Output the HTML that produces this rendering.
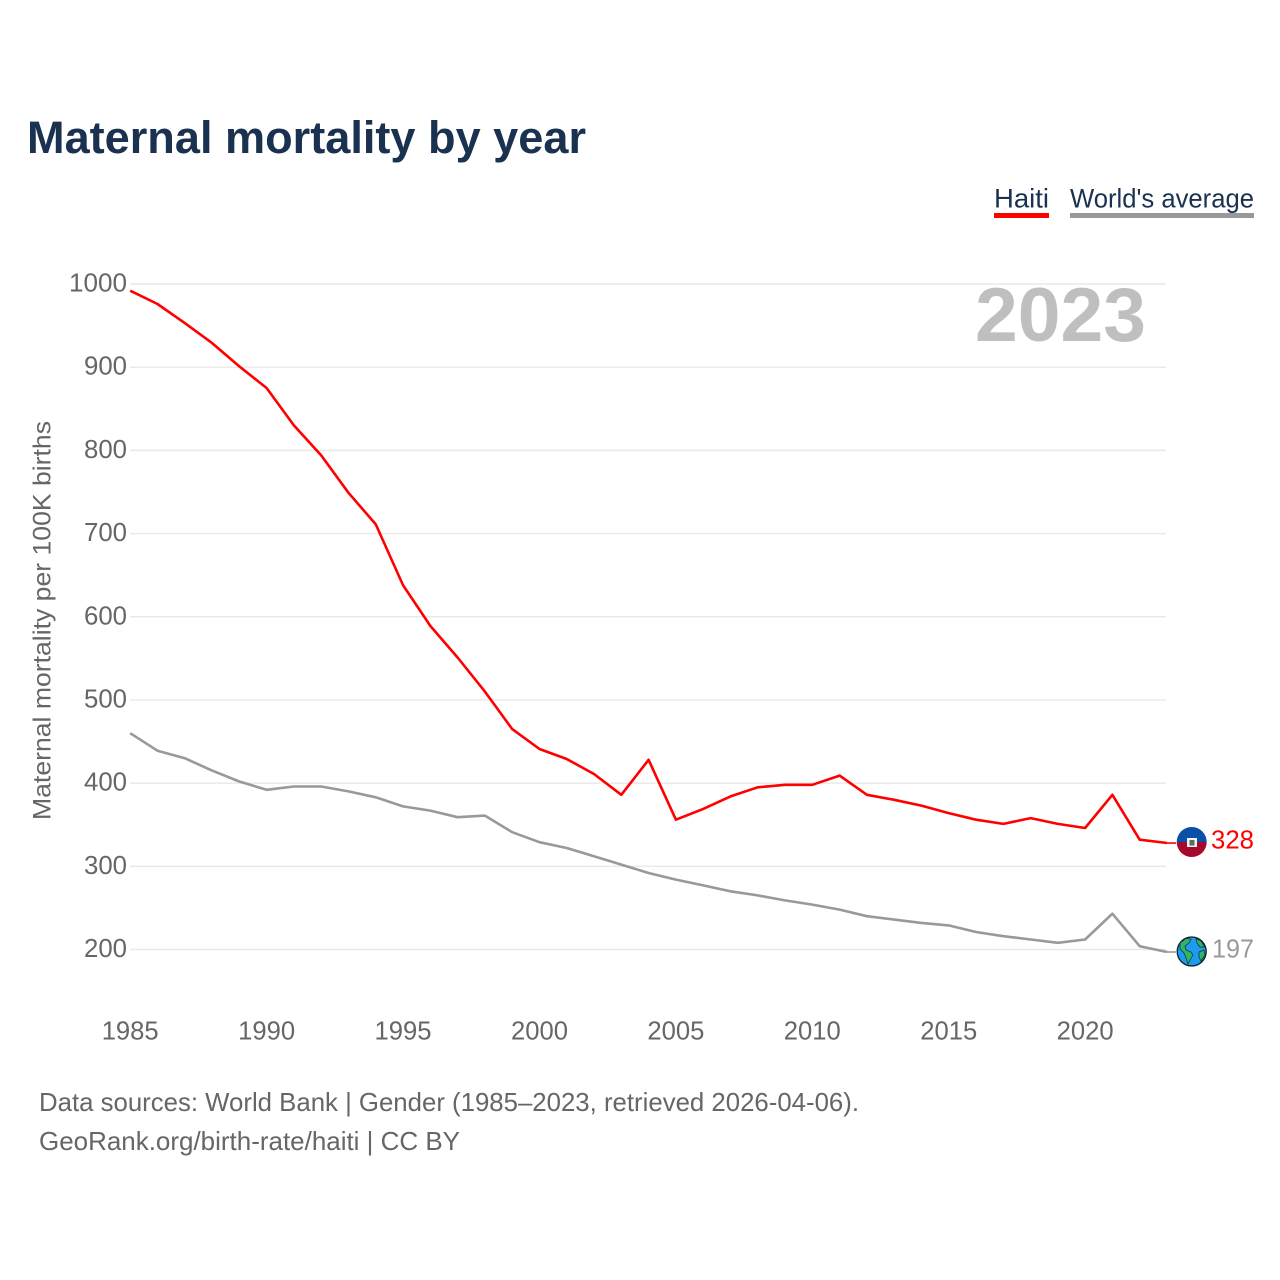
<!DOCTYPE html>
<html lang="en">
<head>
<meta charset="utf-8">
<title>Maternal mortality by year</title>
<style>
html,body{margin:0;padding:0;background:#fff}
svg{display:block}
text{font-family:"Liberation Sans",sans-serif}
</style>
</head>
<body>
<svg id="chart" xmlns="http://www.w3.org/2000/svg" width="1280" height="1280" viewBox="0 0 1280 1280">
<rect width="1280" height="1280" fill="#fff"/>
<text x="27" y="153" font-size="45" font-weight="700" fill="#1a3150" textLength="559" lengthAdjust="spacingAndGlyphs">Maternal mortality by year</text>
<g>
<g>
<text x="994" y="207.5" font-size="27" fill="#1a3150" textLength="55" lengthAdjust="spacingAndGlyphs">Haiti</text>
<rect x="994" y="213" width="55" height="5" fill="#ff0000"/>
</g>
<g>
<text x="1070" y="207.5" font-size="27" fill="#1a3150" textLength="184" lengthAdjust="spacingAndGlyphs">World's average</text>
<rect x="1070" y="213" width="184" height="5" fill="#999999"/>
</g>
</g>
<g id="grid"></g>
<g id="yticks"></g>
<g id="xticks"></g>
<text transform="translate(50.5,820) rotate(-90)" font-size="25" fill="#666666" textLength="399" lengthAdjust="spacingAndGlyphs">Maternal mortality per 100K births</text>
<text id="year" x="975" y="341" font-size="76" font-weight="700" fill="#bfbfbf" textLength="171" lengthAdjust="spacingAndGlyphs">2023</text>
<g id="series"></g>
<g id="ends">
<g>
<clipPath id="flagClip"><circle cx="1191.7" cy="842" r="15"/></clipPath>
<g clip-path="url(#flagClip)">
<rect x="1176" y="826" width="32" height="16" fill="#0a50a8"/>
<rect x="1176" y="842" width="32" height="16" fill="#a50a2c"/>
<rect x="1187" y="838" width="10" height="9" fill="#f4f4f0"/>
<rect x="1189.5" y="840" width="5" height="5.5" fill="#5d6a60"/>
</g>
</g>
<g>
<circle cx="1191.7" cy="951.5" r="14.5" fill="#1e9bf0" stroke="#10202a" stroke-width="1.3"/>
<path d="M1180 943 L1186 938.5 L1191 939 L1189 943 L1185 946 L1186 950 L1191 952 L1193 955 L1190 960 L1188 964 L1186 958 L1184 953 L1180 949 Z" fill="#2fb56a" stroke="#10301f" stroke-width="0.7"/>
<path d="M1196 938.5 L1201 941 L1204.5 947 L1200 947 L1197 943 Z M1199 952 L1204 950 L1205 955 L1201 961 L1199 957 Z" fill="#2fb56a" stroke="#10301f" stroke-width="0.7"/>
</g>
</g>
<text id="haitiValue" x="1211" y="848.5" font-size="26" fill="#ff0000" textLength="43" lengthAdjust="spacingAndGlyphs"></text>
<text id="worldValue" x="1212" y="957.5" font-size="26" fill="#999999" textLength="42" lengthAdjust="spacingAndGlyphs"></text>
<g>
<text x="39" y="1111" font-size="26" fill="#666666" textLength="820" lengthAdjust="spacingAndGlyphs">Data sources: World Bank | Gender (1985–2023, retrieved 2026-04-06).</text>
<text x="39" y="1150" font-size="26" fill="#666666" textLength="421" lengthAdjust="spacingAndGlyphs">GeoRank.org/birth-rate/haiti | CC BY</text>
</g>
</svg>
<script>
const years = [1985,1986,1987,1988,1989,1990,1991,1992,1993,1994,1995,1996,1997,1998,1999,2000,2001,2002,2003,2004,2005,2006,2007,2008,2009,2010,2011,2012,2013,2014,2015,2016,2017,2018,2019,2020,2021,2022,2023];
const haiti = [992,976,953,929,901,875,830,794,749,711,638,589,551,510,465,441,429,411,386,428,356,369,384,395,398,398,409,386,380,373,364,356,351,358,351,346,386,332,328];
const world = [460,439,430,415,402,392,396,396,390,383,372,367,359,361,341,329,322,312,302,292,284,277,270,265,259,254,248,240,236,232,229,221,216,212,208,212,243,204,197];
const yTickLabels = [200,300,400,500,600,700,800,900,1000];
const xTickLabels = [1985,1990,1995,2000,2005,2010,2015,2020];

const NS = 'http://www.w3.org/2000/svg';
const xScale = v => 130.2 + (v - 1985) * (1167 - 130.2) / 38;
const yScale = v => 949.5 - (v - 200) * (949.5 - 284) / 800;
function make(tag, parent, attrs, text) {
  const el = document.createElementNS(NS, tag);
  for (const k in attrs) el.setAttribute(k, attrs[k]);
  if (text !== undefined) el.textContent = text;
  parent.appendChild(el);
  return el;
}
const grid = document.getElementById('grid');
const yticks = document.getElementById('yticks');
const xticks = document.getElementById('xticks');
yTickLabels.forEach(v => {
  const line = make('line', grid, {x1: 130, x2: 1166, y1: yScale(v), y2: yScale(v), stroke: '#e9e9e9', 'stroke-width': 1.4});
  
  
  const w = String(v).length === 4 ? 58 : 43;
  const label = make('text', yticks, {x: 127, y: yScale(v) + 7.5, 'text-anchor': 'end', 'font-size': 26, fill: '#666666', textLength: w, lengthAdjust: 'spacingAndGlyphs'}, v);
  
  
});
xTickLabels.forEach(v => {
  const label = make('text', xticks, {x: xScale(v), y: 1039.5, 'text-anchor': 'middle', 'font-size': 26, fill: '#666666', textLength: 57, lengthAdjust: 'spacingAndGlyphs'}, v);
  
  
});
const series = document.getElementById('series');
function drawSeries(values, color, name) {
  const pts = values.map((v, i) => xScale(years[i]).toFixed(1) + ',' + yScale(v).toFixed(1)).join(' ');
  const line = make('polyline', series, {points: pts, fill: 'none', stroke: color, 'stroke-width': 2.6, 'stroke-linejoin': 'round'});
  
  
  const lastY = yScale(values[values.length - 1]);
  const conn = make('line', series, {x1: 1167, x2: 1176, y1: lastY, y2: lastY, stroke: color, 'stroke-width': 1.6});
  
  
}
drawSeries(world, '#999999', 'world-average-line');
drawSeries(haiti, '#ff0000', 'haiti-line');
document.getElementById('haitiValue').textContent = haiti[haiti.length - 1];
document.getElementById('worldValue').textContent = world[world.length - 1];
document.getElementById('year').textContent = years[years.length - 1];
</script>
</body>
</html>
